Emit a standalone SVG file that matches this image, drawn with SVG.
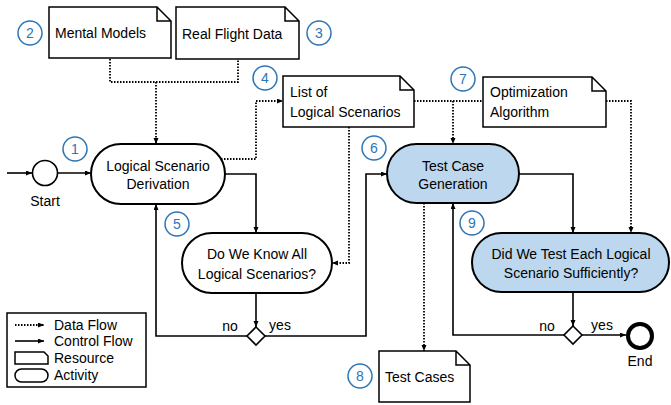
<svg xmlns="http://www.w3.org/2000/svg" width="671" height="405" viewBox="0 0 671 405">
<style>
text{font-family:"Liberation Sans",Arial,sans-serif;font-size:14px;fill:#000}
.c{text-anchor:middle}
.num{fill:#2E75B6;text-anchor:middle;font-size:14px}
.badge{fill:#fff;stroke:#2E75B6;stroke-width:1.5}
.act{fill:#fff;stroke:#000;stroke-width:2}
.blue{fill:#BDD7EE}
.doc{fill:#fff;stroke:#000;stroke-width:1.5}
.ctl{fill:none;stroke:#000;stroke-width:1.6}
.dat{fill:none;stroke:#000;stroke-width:1.8;stroke-dasharray:1.5 1.5}
.dia{fill:#fff;stroke:#000;stroke-width:1.6}
</style>
<defs>
<marker id="ah" markerUnits="userSpaceOnUse" markerWidth="6" markerHeight="6" refX="6" refY="2.5" orient="auto"><path d="M0,0 L6,2.5 L0,5 z" fill="#000"/></marker>
</defs>
<g id="connectors">
<path class="ctl" d="M7,173 H32" marker-end="url(#ah)"/>
<path class="ctl" d="M58,173 H91" marker-end="url(#ah)"/>
<path class="dat" d="M110,59 V82 H238 V59"/>
<path class="dat" d="M156,82 V144" marker-end="url(#ah)"/>
<path class="dat" d="M221,159 H256 V101 H283" marker-end="url(#ah)"/>
<path class="ctl" d="M225,174 H256 V233" marker-end="url(#ah)"/>
<path class="ctl" d="M256,293 V327" marker-end="url(#ah)"/>
<path class="ctl" d="M247,336 H156 V204" marker-end="url(#ah)"/>
<path class="ctl" d="M265,336 H366 V174 H387" marker-end="url(#ah)"/>
<path class="dat" d="M349,127 V263 H332" marker-end="url(#ah)"/>
<path class="dat" d="M414,101 H483"/>
<path class="dat" d="M453,101 V144" marker-end="url(#ah)"/>
<path class="dat" d="M606,101 H631 V233" marker-end="url(#ah)"/>
<path class="ctl" d="M519,174 H573 V233" marker-end="url(#ah)"/>
<path class="ctl" d="M573,292 V326" marker-end="url(#ah)"/>
<path class="ctl" d="M564,335 H453 V203" marker-end="url(#ah)"/>
<path class="ctl" d="M582,335 H626" marker-end="url(#ah)"/>
<path class="dat" d="M424,203 V351" marker-end="url(#ah)"/>
</g>
<g id="start"><circle cx="45" cy="173" r="12.5" fill="#fff" stroke="#000" stroke-width="1.6"/><text class="c" x="45" y="206">Start</text></g>
<g id="end"><circle cx="640" cy="336" r="12" fill="#fff" stroke="#000" stroke-width="4"/><text class="c" x="640" y="366">End</text></g>
<g id="decision1"><path class="dia" d="M256,327 L265,336 L256,345 L247,336 Z"/><text class="c" x="230" y="331">no</text><text class="c" x="280" y="330">yes</text></g>
<g id="decision2"><path class="dia" d="M573,326 L582,335 L573,344 L564,335 Z"/><text class="c" x="547" y="331">no</text><text class="c" x="602" y="330">yes</text></g>
<g id="mental-models"><path class="doc" d="M49,7 H157 L171,21 V58 H49 Z M157,7 V21 H171"/><text x="55" y="38">Mental Models</text></g>
<g id="real-flight-data"><path class="doc" d="M176,7 H285 L299,21 V59 H176 Z M285,7 V21 H299"/><text x="182" y="39">Real Flight Data</text></g>
<g id="list-of-logical-scenarios"><path class="doc" d="M283,76 H400 L414,90 V127 H283 Z M400,76 V90 H414"/><text x="290" y="97">List of</text><text x="290" y="117">Logical Scenarios</text></g>
<g id="optimization-algorithm"><path class="doc" d="M483,77 H592 L606,91 V127 H483 Z M592,77 V91 H606"/><text x="490" y="97">Optimization</text><text x="490" y="117">Algorithm</text></g>
<g id="test-cases"><path class="doc" d="M379,351 H456 L470,365 V402 H379 Z M456,351 V365 H470"/><text x="385" y="382">Test Cases</text></g>
<g id="logical-scenario-derivation"><rect class="act" x="91" y="144" width="134" height="60" rx="30"/><text class="c" x="158" y="171">Logical Scenario</text><text class="c" x="158" y="189">Derivation</text></g>
<g id="do-we-know"><rect class="act" x="182" y="233" width="150" height="60" rx="30"/><text class="c" x="257" y="259">Do We Know All</text><text class="c" x="257" y="279">Logical Scenarios?</text></g>
<g id="test-case-generation"><rect class="act blue" x="387" y="144" width="132" height="59" rx="29.5"/><text class="c" x="453" y="171">Test Case</text><text class="c" x="453" y="189">Generation</text></g>
<g id="did-we-test"><rect class="act blue" x="472" y="233" width="197" height="59" rx="29.5"/><text class="c" x="571" y="259">Did We Test Each Logical</text><text class="c" x="571" y="278">Scenario Sufficiently?</text></g>
<g id="badges">
<circle class="badge" cx="75" cy="149" r="12"/><text class="num" x="75" y="154">1</text>
<circle class="badge" cx="30" cy="33" r="12"/><text class="num" x="30" y="38">2</text>
<circle class="badge" cx="319" cy="33" r="12"/><text class="num" x="319" y="38">3</text>
<circle class="badge" cx="265" cy="78" r="12"/><text class="num" x="265" y="83">4</text>
<circle class="badge" cx="177" cy="224" r="12"/><text class="num" x="177" y="229">5</text>
<circle class="badge" cx="374" cy="148" r="12"/><text class="num" x="374" y="153">6</text>
<circle class="badge" cx="463" cy="79" r="12"/><text class="num" x="463" y="84">7</text>
<circle class="badge" cx="360" cy="376" r="12"/><text class="num" x="360" y="381">8</text>
<circle class="badge" cx="472" cy="223" r="12"/><text class="num" x="472" y="228">9</text>
</g>
<g id="legend">
<rect x="7" y="313" width="139" height="74" fill="#fff" stroke="#000" stroke-width="1.5"/>
<path class="dat" d="M15,325 H44" marker-end="url(#ah)"/>
<path class="ctl" d="M15,341 H44" marker-end="url(#ah)"/>
<path class="doc" d="M15,352 H44 L48,356 V364 H15 Z"/>
<rect x="15" y="369" width="33" height="13" rx="6.5" fill="#fff" stroke="#000" stroke-width="1.5"/>
<text x="54" y="330">Data Flow</text>
<text x="54" y="346">Control Flow</text>
<text x="54" y="363">Resource</text>
<text x="54" y="380">Activity</text>
</g>
</svg>
